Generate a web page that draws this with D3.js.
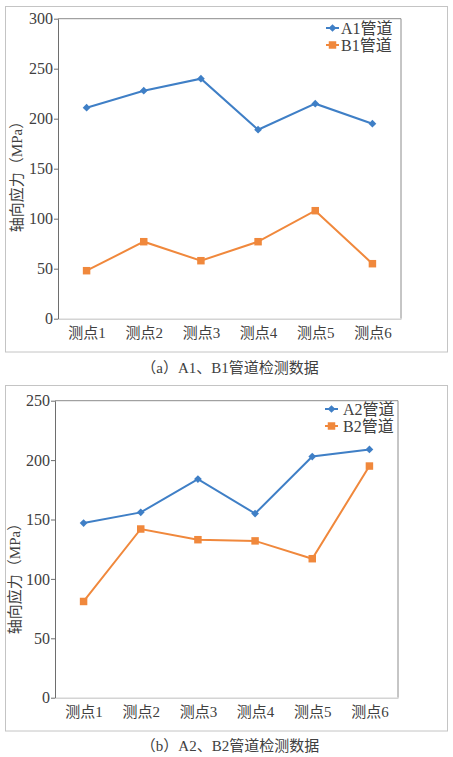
<!DOCTYPE html>
<html>
<head>
<meta charset="utf-8">
<script src="https://cdn.jsdelivr.net/npm/d3@7"></script>
<style>
  body { margin: 0; background: #fff; }
  svg { display: block; }
  text { font-family: "Liberation Serif", "Times New Roman", "DejaVu Serif", "Noto Sans CJK SC", serif !important; fill: #404040; }
</style>
</head>
<body>
<svg id="chart" width="453" height="757"></svg>
<script>
// shared categories
const points = ["测点1", "测点2", "测点3", "测点4", "测点5", "测点6"];

// panel (a)
const seriesA1 = [211, 228, 240, 189, 215, 195];
const seriesB1 = [48, 77, 58, 77, 108, 55];
const ticksA = [0, 50, 100, 150, 200, 250, 300];

// panel (b)
const seriesA2 = [147, 156, 184, 155, 203, 209];
const seriesB2 = [81, 142, 133, 132, 117, 195];
const ticksB = [0, 50, 100, 150, 200, 250];

const blue = "#3f7fc6";
const orange = "#f0883c";

const svg = d3.select("#chart");

// marker: diamond = square turned 45deg, like excel
function marker(sel, shape, color) {
    sel.append("path")
        .attr("d", d3.symbol().type(d3.symbolSquare).size(shape === "diamond" ? 30 : 56))
        .attr("transform", shape === "diamond" ? "rotate(45)" : null)
        .attr("fill", color);
}

// draws one boxed panel with two line series
function drawPanel(opt) {
    const g = svg.append("g");

    // outer frame
    g.append("rect")
        .attr("x", opt.frame[0]).attr("y", opt.frame[1])
        .attr("width", opt.frame[2]).attr("height", opt.frame[3])
        .attr("fill", "none").attr("stroke", "#c4c4c4");

    const x = d3.scalePoint().domain(points).range([opt.left, opt.right]).padding(0.5);
    const y = d3.scaleLinear().domain([0, d3.max(opt.ticks)]).range([opt.bottom, opt.top]);

    // top and right border of plot area
    g.append("path")
        .attr("d", `M${opt.left},${opt.top}H${opt.right}V${opt.bottom}`)
        .attr("fill", "none").attr("stroke", "#8c8c8c");

    // x axis (light line, no ticks)
    const xAxis = g.append("g")
        .attr("transform", `translate(0,${opt.bottom})`)
        .call(d3.axisBottom(x).tickSize(0).tickPadding(9));
    xAxis.select(".domain").attr("stroke", "#d4d4d4").attr("stroke-width", 1.5);
    xAxis.selectAll("text").style("font-size", "15px").attr("fill", "#404040");

    // y axis
    const yAxis = g.append("g")
        .attr("transform", `translate(${opt.left},0)`)
        .call(d3.axisLeft(y).tickValues(opt.ticks).tickSize(4).tickPadding(1).tickSizeOuter(0));
    yAxis.select(".domain").attr("stroke", "#6e6e6e");
    yAxis.selectAll(".tick line").attr("stroke", "#6e6e6e");
    yAxis.selectAll("text").style("font-size", "16px").attr("fill", "#404040");

    // y axis title
    g.append("text")
        .attr("transform", `translate(${opt.titleX},${opt.titleY}) rotate(-90)`)
        .attr("text-anchor", "middle")
        .attr("dominant-baseline", "central")
        .style("font-size", "15px")
        .text("轴向应力（MPa）");

    const line = d3.line().x((d, i) => x(points[i])).y(d => y(d));

    opt.series.forEach(s => {
        g.append("path")
            .datum(s.values)
            .attr("d", line)
            .attr("fill", "none")
            .attr("stroke", s.color)
            .attr("stroke-width", 2);

        g.selectAll(null)
            .data(s.values)
            .enter()
            .append("g")
            .attr("transform", (d, i) => `translate(${x(points[i])},${y(d)})`)
            .each(function() { marker(d3.select(this), s.shape, s.color); });
    });

    // legend
    const lg = g.append("g").attr("transform", `translate(${opt.legend[0]},${opt.legend[1]})`);
    opt.series.forEach((s, i) => {
        const row = lg.append("g").attr("transform", `translate(0,${i * 17})`);
        row.append("line").attr("x1", 0).attr("x2", 13)
            .attr("stroke", s.color).attr("stroke-width", 2);
        marker(row.append("g").attr("transform", "translate(6.5,0)"), s.shape, s.color);
        row.append("text")
            .attr("x", opt.legendText)
            .attr("dominant-baseline", "central")
            .style("font-size", "16px")
            .attr("fill", "#262626")
            .text(s.name);
    });

    // caption
    svg.append("text")
        .attr("x", 230).attr("y", opt.caption)
        .attr("text-anchor", "middle")
        .attr("dominant-baseline", "central")
        .style("font-size", "15px")
        .attr("fill", "#262626")
        .text(opt.captionText);
}

drawPanel({
    frame: [5.5, 6.5, 442, 345.5],
    left: 58, right: 401, top: 18.7, bottom: 318.7,
    ticks: ticksA,
    titleX: 17, titleY: 173,
    legend: [326, 28], legendText: 15,
    series: [
        {name: "A1管道", values: seriesA1, color: blue, shape: "diamond"},
        {name: "B1管道", values: seriesB1, color: orange, shape: "square"}
    ],
    caption: 368,
    captionText: "（a）A1、B1管道检测数据"
});

drawPanel({
    frame: [5.5, 385.5, 442, 345.5],
    left: 55, right: 398, top: 400.7, bottom: 697.7,
    ticks: ticksB,
    titleX: 15, titleY: 575,
    legend: [325, 409], legendText: 18,
    series: [
        {name: "A2管道", values: seriesA2, color: blue, shape: "diamond"},
        {name: "B2管道", values: seriesB2, color: orange, shape: "square"}
    ],
    caption: 746,
    captionText: "（b）A2、B2管道检测数据"
});
</script>
</body>
</html>
